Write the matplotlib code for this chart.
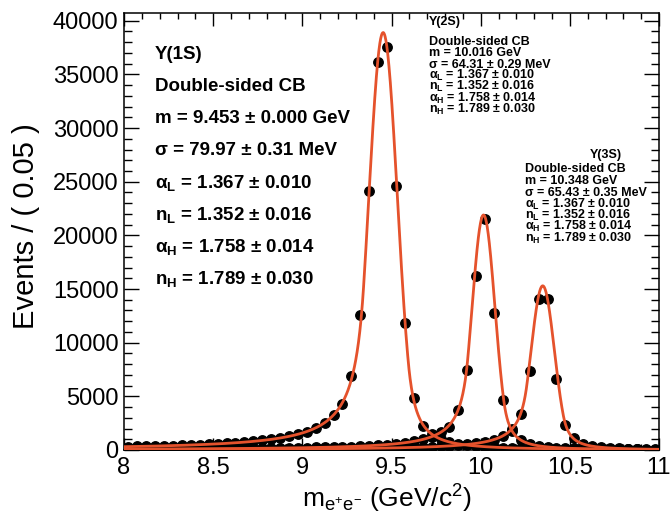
import numpy as np
import matplotlib.pyplot as plt
from matplotlib.ticker import MultipleLocator, FormatStrFormatter

plt.rcParams['font.family'] = ['Liberation Sans', 'DejaVu Sans']
plt.rcParams['mathtext.fontset'] = 'custom'
plt.rcParams['mathtext.rm'] = 'Liberation Sans'
plt.rcParams['mathtext.it'] = 'Liberation Sans:italic'
plt.rcParams['mathtext.bf'] = 'Liberation Sans:bold'

# bin centres, 0.05 GeV wide bins from 8 to 11
bins = np.arange(8.025, 11.0, 0.05)

# events per bin
y1s = [315, 330, 348, 367, 387, 410, 436, 465, 497, 532,
       572, 618, 671, 733, 805, 890, 990, 1115, 1270, 1465,
       1715, 2060, 2550, 3270, 4300, 6900, 12600, 24100, 36150, 37600,
       24600, 11800, 4800, 2250, 1490, 1020, 747, 573, 455, 370,
       308, 261, 224, 195, 170, 150, 133, 119, 107, 96,
       87, 79, 72, 66, 61, 56, 52, 48, 44, 41]
y2s = [79, 82, 85, 88, 92, 96, 100, 105, 110, 115,
       121, 127, 134, 141, 149, 158, 167, 178, 189, 202,
       217, 233, 251, 272, 296, 325, 359, 399, 447, 507,
       580, 677, 805, 980, 1240, 1640, 2160, 3720, 7480, 16230,
       21550, 12760, 4620, 1810, 930, 573, 393, 287, 220, 174,
       142, 118, 100, 86, 74, 65, 57, 51, 46, 41]
y3s = [44, 46, 47, 49, 51, 53, 55, 57, 59, 61,
       64, 66, 69, 72, 76, 79, 83, 87, 92, 97,
       102, 108, 114, 121, 129, 138, 147, 158, 171, 185,
       201, 219, 241, 267, 297, 335, 381, 439, 515, 618,
       762, 976, 1320, 1960, 3400, 7380, 14100, 14100, 6590, 2370,
       1100, 558, 360, 252, 188, 145, 117, 96, 80, 68]

# fit results shown on the plot
mass = [9.453, 10.016, 10.348]
sigma = [0.07997, 0.06431, 0.06543]
alphaL, nL, alphaH, nH = 1.367, 1.352, 1.758, 1.789
peak = [38900, 21900, 15300]  # curve height at the mean

labels_1s = ['\u03a5(1S)', 'Double-sided CB',
             'm = 9.453 \u00b1 0.000 GeV', '\u03c3 = 79.97 \u00b1 0.31 MeV',
             '\u03b1$_{\\mathbf{L}}$ = 1.367 \u00b1 0.010', 'n$_{\\mathbf{L}}$ = 1.352 \u00b1 0.016',
             '\u03b1$_{\\mathbf{H}}$ = 1.758 \u00b1 0.014', 'n$_{\\mathbf{H}}$ = 1.789 \u00b1 0.030']
labels_2s = ['\u03a5(2S)', 'Double-sided CB', 'm = 10.016 GeV', '\u03c3 = 64.31 \u00b1 0.29 MeV'] + labels_1s[4:]
labels_3s = ['\u03a5(3S)', 'Double-sided CB', 'm = 10.348 GeV', '\u03c3 = 65.43 \u00b1 0.35 MeV'] + labels_1s[4:]


def dscb(x, m, s, aL, nL, aH, nH):
    t = (x - m) / s
    out = np.exp(-0.5 * t**2)
    AL = (nL / aL)**nL * np.exp(-0.5 * aL**2)
    BL = nL / aL - aL
    AH = (nH / aH)**nH * np.exp(-0.5 * aH**2)
    BH = nH / aH - aH
    lo = t < -aL
    hi = t > aH
    out[lo] = AL * (BL - t[lo])**(-nL)
    out[hi] = AH * (BH + t[hi])**(-nH)
    return out


W, H = 670, 521
fig = plt.figure(figsize=(W / 100, H / 100), dpi=100)
ax = fig.add_axes([124 / W, 1 - 450 / H, 535 / W, 437.3 / H])

red = '#e5522c'
xf = np.linspace(8, 11, 2000)
for ys in (y1s, y2s, y3s):
    ax.plot(bins, ys, 'o', color='black', ms=6.8, zorder=2)
for i in range(3):
    ax.plot(xf, peak[i] * dscb(xf, mass[i], sigma[i], alphaL, nL, alphaH, nH),
            color=red, lw=2.0, zorder=3)

ax.set_xlim(8, 11)
ax.set_ylim(0, 40750)
ax.xaxis.set_major_locator(MultipleLocator(0.5))
ax.xaxis.set_minor_locator(MultipleLocator(0.1))
ax.xaxis.set_major_formatter(FormatStrFormatter('%g'))
ax.yaxis.set_major_locator(MultipleLocator(5000))
ax.yaxis.set_minor_locator(MultipleLocator(1000))
ax.tick_params(which='both', direction='in', top=True, right=True, width=1.0)
ax.tick_params(axis='y', which='major', length=11, labelsize=17, pad=4)
ax.tick_params(axis='y', which='minor', length=6)
ax.tick_params(axis='x', which='major', length=9, labelsize=17, pad=5)
ax.tick_params(axis='x', which='minor', length=4.5)
for sp in ax.spines.values():
    sp.set_linewidth(1.1)

ax.set_ylabel('Events / ( 0.05 )', fontsize=21)
ax.yaxis.set_label_coords(-0.183, 0.513)
ax.yaxis.label.set_va('center')
ax.set_xlabel(r'm$_{\mathrm{e^{+}e^{-}}}$ (GeV/c$^{2}$)', fontsize=19)
ax.xaxis.set_label_coords(0.492, -0.112)
ax.xaxis.label.set_va('center')


def block(lines, x, ys, size):
    for txt, yc in zip(lines, ys):
        fig.text(x / W, 1 - (yc + 0.36 * size * 1.39) / H, txt, fontsize=size,
                 fontweight='bold', va='baseline', ha='left')


block(labels_1s, 155, [52, 84, 116, 148, 181, 213, 245, 277], 13.5)
block(labels_2s, 429, [20.7, 40, 51.5, 63, 74, 85.5, 97, 108.5], 9)
block(labels_3s[:1], 590, [153], 9)
block(labels_3s[1:], 525, [167, 179, 191, 203, 214, 225.5, 237], 9)

fig.savefig('out.png', dpi=100)
